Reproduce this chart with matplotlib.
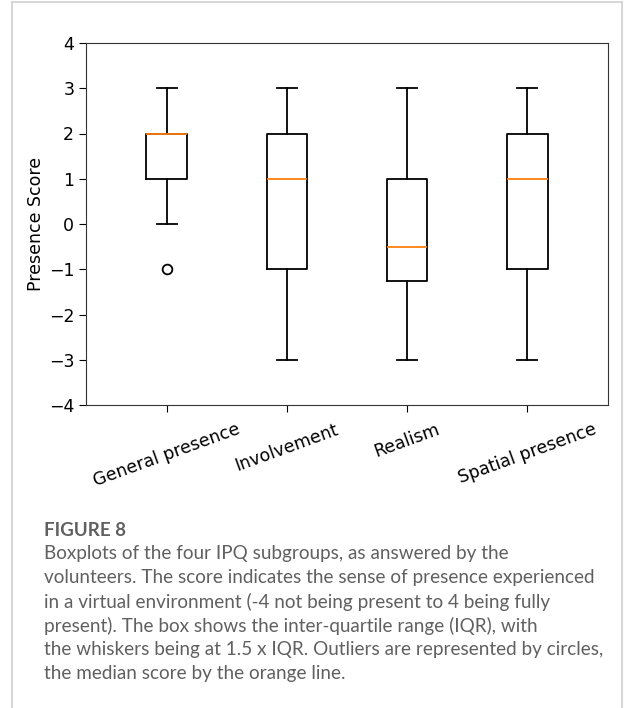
import matplotlib.pyplot as plt
from matplotlib.lines import Line2D

# box statistics
groups = ["General presence", "Involvement", "Realism", "Spatial presence"]
medians = [2, 1, -0.5, 1]
q1 = [1, -1, -1.25, -1]
q3 = [2, 2, 1, 2]
whislo = [0, -3, -3, -3]
whishi = [3, 3, 3, 3]
fliers = [[-1], [], [], []]

caption_title = "FIGURE 8"
caption_lines = [
    "Boxplots of the four IPQ subgroups, as answered by the",
    "volunteers. The score indicates the sense of presence experienced",
    "in a virtual environment (-4 not being present to 4 being fully",
    "present). The box shows the inter-quartile range (IQR), with",
    "the whiskers being at 1.5 x IQR. Outliers are represented by circles,",
    "the median score by the orange line.",
]

W, H = 624, 708
fig = plt.figure(figsize=(W / 100, H / 100), dpi=100)

stats = []
for i in range(len(groups)):
    stats.append(dict(med=medians[i], q1=q1[i], q3=q3[i],
                      whislo=whislo[i], whishi=whishi[i],
                      fliers=fliers[i], label=groups[i]))

ax = fig.add_axes([86 / W, 1 - 405 / H, (608 - 86) / W, (405 - 43) / H])
lw = 1.3
ax.bxp(stats, widths=0.335, showfliers=True,
       boxprops=dict(color="black", linewidth=lw),
       whiskerprops=dict(color="black", linewidth=lw),
       capprops=dict(color="black", linewidth=lw),
       medianprops=dict(color="#ff7f0e", linewidth=lw),
       flierprops=dict(marker="o", markerfacecolor="none",
                       markeredgecolor="black", markersize=7,
                       markeredgewidth=lw))
ax.set_xlim(0.33, 4.67)
ax.set_ylim(-4, 4)
ax.set_yticks(range(-4, 5))
ax.tick_params(labelsize=12.5, length=5)
ax.tick_params(axis="x", pad=6)
ax.set_xticklabels(groups, rotation=20, ha="center")
ax.set_ylabel("Presence Score", fontsize=12.5, labelpad=3)
for s in ax.spines.values():
    s.set_color("#333333")

# card frame
fc = "#cfcfcf"
fig.add_artist(Line2D([12 / W, 12 / W], [0, 1 - 2 / H], color=fc, lw=1.2))
fig.add_artist(Line2D([622 / W, 622 / W], [0, 1 - 2 / H], color=fc, lw=1.2))
fig.add_artist(Line2D([12 / W, 622 / W], [1 - 2 / H, 1 - 2 / H], color=fc, lw=1.2))

tc = "#606060"
fig.text(44 / W, 1 - 530 / H, caption_title, fontsize=13.5, fontweight="bold",
         family="Lato", color=tc, va="center")
for k, line in enumerate(caption_lines):
    fig.text(44 / W, 1 - (554 + 24 * k) / H, line, fontsize=13.6,
             family="Lato", color=tc, va="center")

fig.savefig("out.png", dpi=100)
